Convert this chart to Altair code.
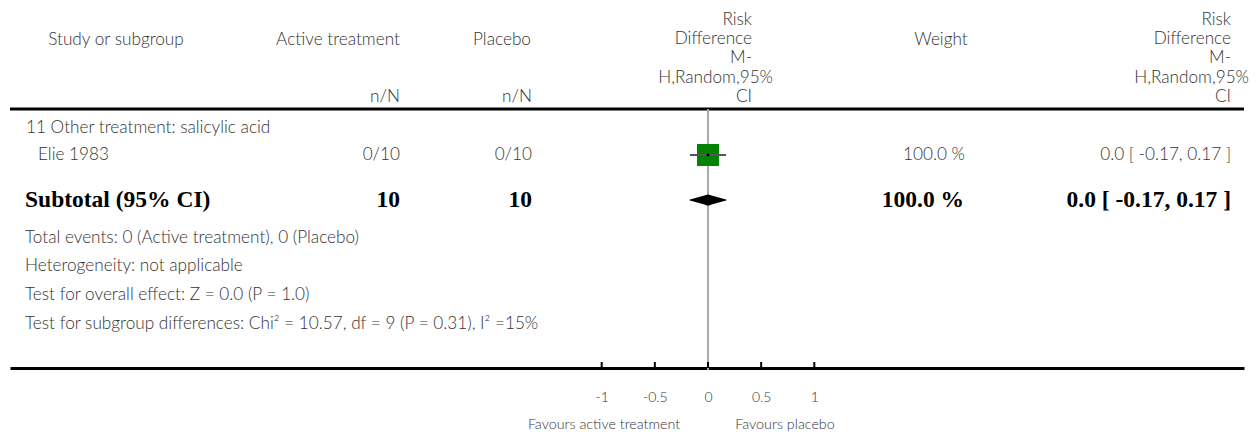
import altair as alt
import pandas as pd

# ---------------- data ----------------
header_cols = ["Study or subgroup", "Active treatment", "Placebo", "Weight"]
unit_label = "n/N"
rd_header = ["Risk", "Difference", "M-", "H,Random,95%", "CI"]
subgroup_label = "11 Other treatment: salicylic acid"
studies = ["Elie 1983"]
active_events = [0]
active_total = [10]
placebo_events = [0]
placebo_total = [10]
study_rd = [0.0]
study_low = [-0.17]
study_high = [0.17]
study_weight = [100.0]
subtotal_label = "Subtotal (95% CI)"
subtotal_active = [10]
subtotal_placebo = [10]
subtotal_rd = [0.0]
subtotal_low = [-0.17]
subtotal_high = [0.17]
subtotal_weight = [100.0]
footnotes = [
    "Total events: 0 (Active treatment), 0 (Placebo)",
    "Heterogeneity: not applicable",
    "Test for overall effect: Z = 0.0 (P = 1.0)",
    "Test for subgroup differences: Chi\u00b2 = 10.57, df = 9 (P = 0.31), I\u00b2 =15%",
]
tick_values = [-1, -0.5, 0, 0.5, 1]
favours = ["Favours active treatment", "Favours placebo"]

# ---------------- layout ----------------
W, H = 1234, 360
LEFT, TOP = 10, 8
PX_PER_UNIT = 106.3
ZERO_PX = 698
dmin = -ZERO_PX / PX_PER_UNIT
dmax = (W - ZERO_PX) / PX_PER_UNIT

SANS = "Lato"
SERIF = "Liberation Serif"
TXT = "#333333"
FS = 17.2
BFS = 23.5

xs = alt.Scale(domain=[dmin, dmax], nice=False, zero=False)
ax = alt.Axis(values=tick_values,
              labelExpr="replace(format(datum.value, '.1~f'), '\u2212', '-')",
              ticks=False, grid=False, domain=True, domainColor="black", domainWidth=3,
              labelFont=SANS, labelFontSize=14, labelFontWeight=300, labelColor=TXT,
              labelPadding=22, title=None)


def X(field):
    return alt.X(f"{field}:Q", scale=xs, axis=ax, title=None)


def txt(s, x, y, align="left", size=FS, bold=False, serif=False, color=TXT):
    return alt.Chart(alt.Data(values=[{"t": s}])).mark_text(
        align=align, baseline="middle", font=SERIF if serif else SANS,
        fontSize=size, fontWeight="bold" if bold else 300, color=color
    ).encode(text="t:N", x=alt.value(x - LEFT), y=alt.value(y - TOP))


layers = []

# header texts
layers.append(txt(header_cols[0], 116, 40, "center"))
layers.append(txt(header_cols[1], 338, 40, "center"))
layers.append(txt(header_cols[2], 502, 40, "center"))
layers.append(txt(header_cols[3], 941, 40, "center"))
layers.append(txt(unit_label, 400, 97, "right"))
layers.append(txt(unit_label, 532, 97, "right"))
hdr_y = [20, 39, 58, 78, 97]
for i, s in enumerate(rd_header):
    long = s.startswith("H,")
    layers.append(txt(s, 773 if long else 752, hdr_y[i], "right"))
    layers.append(txt(s, 1249 if long else 1231, hdr_y[i], "right"))

# header rule
layers.append(alt.Chart(alt.Data(values=[{}])).mark_rule(color="black", strokeWidth=3).encode(
    x=alt.value(0), x2=alt.value(W), y=alt.value(109 - TOP)))

# zero line
zero_df = pd.DataFrame({"x": [0.0]})
layers.append(alt.Chart(zero_df).mark_rule(color="#aaaaaa", strokeWidth=2).encode(
    x=X("x"), y=alt.value(109 - TOP), y2=alt.value(370 - TOP)))

# subgroup label
layers.append(txt(subgroup_label, 26, 128))

# study rows
row_y = [155]
for i, name in enumerate(studies):
    y = row_y[i]
    layers.append(txt(name, 38, y))
    layers.append(txt(f"{active_events[i]}/{active_total[i]}", 400, y, "right"))
    layers.append(txt(f"{placebo_events[i]}/{placebo_total[i]}", 532, y, "right"))
    layers.append(txt(f"{study_weight[i]:.1f} %", 965, y, "right"))
    layers.append(txt(f"{study_rd[i]:.1f} [ {study_low[i]:.2f}, {study_high[i]:.2f} ]", 1231, y, "right"))

study_df = pd.DataFrame({"rd": study_rd, "lo": study_low, "hi": study_high, "w": study_weight})
layers.append(alt.Chart(study_df).mark_square(color="#058205", opacity=1, size=484).encode(
    x=X("rd"), y=alt.value(row_y[0] - TOP)))
layers.append(alt.Chart(study_df).mark_rule(color="#555555", strokeWidth=2).encode(
    x=X("lo"), x2="hi:Q", y=alt.value(row_y[0] - TOP)))
layers.append(alt.Chart(study_df).mark_square(color="black", opacity=1, size=6).encode(
    x=X("rd"), y=alt.value(row_y[0] - TOP)))

# subtotal
sy = 200
layers.append(txt(subtotal_label, 25, sy, size=BFS, bold=True, serif=True, color="black"))
layers.append(txt(f"{subtotal_active[0]}", 400, sy, "right", size=BFS, bold=True, serif=True, color="black"))
layers.append(txt(f"{subtotal_placebo[0]}", 532, sy, "right", size=BFS, bold=True, serif=True, color="black"))
layers.append(txt(f"{subtotal_weight[0]:.1f} %", 964, sy, "right", size=BFS, bold=True, serif=True, color="black"))
layers.append(txt(f"{subtotal_rd[0]:.1f} [ {subtotal_low[0]:.2f}, {subtotal_high[0]:.2f} ]", 1231, sy, "right",
                  size=BFS, bold=True, serif=True, color="black"))

diamond_df = pd.DataFrame({"x": [subtotal_low[0], subtotal_rd[0], subtotal_high[0]], "w": [0.0, 1.0, 0.0]})
layers.append(alt.Chart(diamond_df).mark_trail(color="black").encode(
    x=X("x"), y=alt.value(sy - TOP),
    size=alt.Size("w:Q", scale=alt.Scale(domain=[0, 1], range=[0, 11]), legend=None)))

# footnotes
foot_y = [238, 266, 295, 324]
for s, y in zip(footnotes, foot_y):
    layers.append(txt(s, 25, y))

# ticks (upward from axis line)
tick_df = pd.DataFrame({"x": tick_values})
layers.append(alt.Chart(tick_df).mark_rule(color="black", strokeWidth=2).encode(
    x=X("x"), y=alt.value(362 - TOP), y2=alt.value(H)))

# favours labels
layers.append(txt(favours[0], 604, 425, "center", size=14.3))
layers.append(txt(favours[1], 785, 425, "center", size=14.3))

chart = alt.layer(*layers).properties(
    width=W, height=H, autosize=alt.AutoSizeParams(type="none"),
    padding={"left": 2, "top": 0, "right": 6, "bottom": 64}
).configure_view(stroke=None)

chart.save("out.html", embed_options={"renderer": "svg", "actions": False})
